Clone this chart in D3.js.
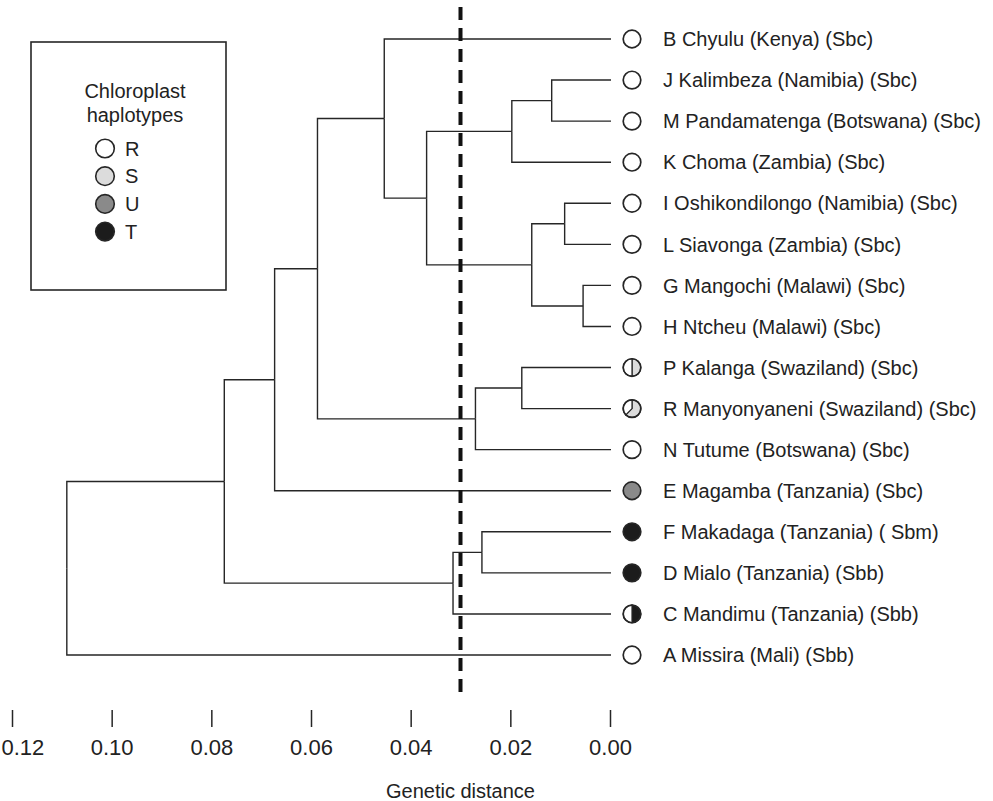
<!DOCTYPE html>
<html>
<head>
<meta charset="utf-8">
<script src="https://cdn.jsdelivr.net/npm/d3@7/dist/d3.min.js"></script>
<style>
    html, body { margin: 0; padding: 0; background: #fff; }
    svg { display: block; font-family: "Liberation Sans", Arial, sans-serif; }
</style>
</head>
<body>
<svg id="chart" width="993" height="801"></svg>
<script>
(function () {

    // leaves, top to bottom as drawn
    var leafIds = ['B', 'J', 'M', 'K', 'I', 'L', 'G', 'H', 'P', 'R', 'N', 'E', 'F', 'D', 'C', 'A'];
    var leafLabels = [
        'B Chyulu (Kenya) (Sbc)',
        'J Kalimbeza (Namibia) (Sbc)',
        'M Pandamatenga (Botswana) (Sbc)',
        'K Choma (Zambia) (Sbc)',
        'I Oshikondilongo (Namibia) (Sbc)',
        'L Siavonga (Zambia) (Sbc)',
        'G Mangochi (Malawi) (Sbc)',
        'H Ntcheu (Malawi) (Sbc)',
        'P Kalanga (Swaziland) (Sbc)',
        'R Manyonyaneni (Swaziland) (Sbc)',
        'N Tutume (Botswana) (Sbc)',
        'E Magamba (Tanzania) (Sbc)',
        'F Makadaga (Tanzania) ( Sbm)',
        'D Mialo (Tanzania) (Sbb)',
        'C Mandimu (Tanzania) (Sbb)',
        'A Missira (Mali) (Sbb)'
    ];
    // haplotype shares per leaf, read clockwise from 12 o'clock
    var leafHaplotypes = [
        [['R', 1]], [['R', 1]], [['R', 1]], [['R', 1]],
        [['R', 1]], [['R', 1]], [['R', 1]], [['R', 1]],
        [['S', 0.5], ['R', 0.5]],
        [['S', 0.625], ['R', 0.375]],
        [['R', 1]], [['U', 1]], [['T', 1]], [['T', 1]],
        [['T', 0.5], ['R', 0.5]],
        [['R', 1]]
    ];

    // clusters: [id, child, child, genetic distance of the join]
    var merges = [
        ['JM', 'J', 'M', 0.0117],
        ['JMK', 'JM', 'K', 0.0197],
        ['IL', 'I', 'L', 0.0091],
        ['GH', 'G', 'H', 0.0054],
        ['ILGH', 'IL', 'GH', 0.0157],
        ['JMKILGH', 'JMK', 'ILGH', 0.0368],
        ['Bgrp', 'B', 'JMKILGH', 0.0453],
        ['PR', 'P', 'R', 0.0177],
        ['PRN', 'PR', 'N', 0.0270],
        ['south', 'Bgrp', 'PRN', 0.0587],
        ['southE', 'south', 'E', 0.0673],
        ['FD', 'F', 'D', 0.0257],
        ['FDC', 'FD', 'C', 0.0315],
        ['east', 'southE', 'FDC', 0.0774],
        ['root', 'east', 'A', 0.1090]
    ];

    var cutoff = 0.03;
    var tickValues = [0.12, 0.10, 0.08, 0.06, 0.04, 0.02, 0.00];

    var haploNames = ['R', 'S', 'U', 'T'];
    var haploColors = ['#ffffff', '#dcdcdc', '#8a8a8a', '#1c1c1c'];

    var svg = d3.select('#chart');
    var ink = '#262626';

    var x = d3.scaleLinear().domain([0.12, 0]).range([12, 610]);
    var y = d3.scalePoint().domain(leafIds).range([39, 655]);
    var fill = d3.scaleOrdinal().domain(haploNames).range(haploColors);

    // build the tree from the merge table
    var nodes = {};
    leafIds.forEach(function (id, i) {
        nodes[id] = { id: id, dist: 0, label: leafLabels[i], haplo: leafHaplotypes[i] };
    });
    merges.forEach(function (m) {
        nodes[m[0]] = { id: m[0], dist: m[3], children: [nodes[m[1]], nodes[m[2]]] };
    });

    var root = d3.hierarchy(nodes.root);
    root.eachAfter(function (n) {
        n.px = x(n.data.dist);
        if (n.children) {
            n.py = (n.children[0].py + n.children[n.children.length - 1].py) / 2;
        } else {
            n.py = y(n.data.id);
        }
    });

    var g = svg.append('g');

    // elbow links
    g.selectAll('path.link')
        .data(root.links())
        .join('path')
            .attr('class', 'link')
            .attr('fill', 'none')
            .attr('stroke', ink)
            .attr('stroke-width', 1.4)
            .attr('d', function (l) {
                var tx = l.target.children ? l.target.px : l.target.px + 1;
                return 'M' + l.source.px + ',' + l.source.py +
                    'V' + l.target.py + 'H' + tx;
            });

    // dashed cut-off line
    svg.append('line')
        .attr('x1', x(cutoff)).attr('x2', x(cutoff))
        .attr('y1', 7).attr('y2', 700)
        .attr('stroke', '#111')
        .attr('stroke-width', 4)
        .attr('stroke-dasharray', '13,8');

    // leaf markers
    var pie = d3.pie().sort(null).value(function (d) { return d[1]; });
    var arc = d3.arc().innerRadius(0).outerRadius(8.8);

    var leaves = g.selectAll('g.leaf')
        .data(root.leaves())
        .join('g')
            .attr('class', 'leaf')
            .attr('transform', function (n) { return 'translate(' + (n.px + 22) + ',' + n.py + ')'; });

    leaves.each(function (n) {
        var sel = d3.select(this);
        sel.selectAll('path.slice')
            .data(pie(n.data.haplo))
            .join('path')
                .attr('class', 'slice')
                .attr('d', arc)
                .attr('fill', function (d) { return fill(d.data[0]); })
                .attr('stroke', n.data.haplo.length > 1 ? ink : 'none')
                .attr('stroke-width', 1.2);
        sel.append('circle')
            .attr('r', 8.8)
            .attr('fill', 'none')
            .attr('stroke', ink)
            .attr('stroke-width', 1.7);
    });

    leaves.append('text')
        .attr('x', 31)
        .attr('dy', '0.36em')
        .attr('font-size', 20)
        .attr('fill', '#222')
        .text(function (n) { return n.data.label; });

    // axis
    var axis = d3.axisBottom(x)
        .tickValues(tickValues)
        .tickSize(17)
        .tickPadding(12)
        .tickFormat(d3.format('.2f'));

    var ax = svg.append('g')
        .attr('transform', 'translate(0,710)')
        .call(axis);
    ax.select('.domain').remove();
    ax.selectAll('line').attr('stroke', ink).attr('stroke-width', 1.5);
    ax.selectAll('text')
        .attr('font-size', 22)
        .attr('font-family', '"Liberation Sans", Arial, sans-serif')
        .attr('fill', '#222')
        .attr('x', function (d) {
            // keep the leftmost label inside the picture
            var half = this.getComputedTextLength() / 2;
            return Math.max(0, half - x(d) + 1);
        });

    svg.append('text')
        .attr('x', x(cutoff))
        .attr('y', 798)
        .attr('text-anchor', 'middle')
        .attr('font-size', 20)
        .attr('fill', '#222')
        .text('Genetic distance');

    // legend
    var legend = svg.append('g');
    legend.append('rect')
        .attr('x', 31).attr('y', 42)
        .attr('width', 195).attr('height', 248)
        .attr('fill', 'none')
        .attr('stroke', ink)
        .attr('stroke-width', 1.6);

    legend.selectAll('text.title')
        .data(['Chloroplast', 'haplotypes'])
        .join('text')
            .attr('class', 'title')
            .attr('x', 135)
            .attr('y', function (d, i) { return 98 + i * 24; })
            .attr('text-anchor', 'middle')
            .attr('font-size', 20)
            .attr('fill', '#222')
            .text(function (d) { return d; });

    var item = legend.selectAll('g.item')
        .data(haploNames)
        .join('g')
            .attr('class', 'item')
            .attr('transform', function (d, i) { return 'translate(105,' + (148.5 + i * 27.7) + ')'; });

    item.append('circle')
        .attr('r', 9.3)
        .attr('fill', function (d) { return fill(d); })
        .attr('stroke', ink)
        .attr('stroke-width', 1.6);

    item.append('text')
        .attr('x', 20)
        .attr('dy', '0.36em')
        .attr('font-size', 20)
        .attr('fill', '#222')
        .text(function (d) { return d; });

})();
</script>
</body>
</html>
